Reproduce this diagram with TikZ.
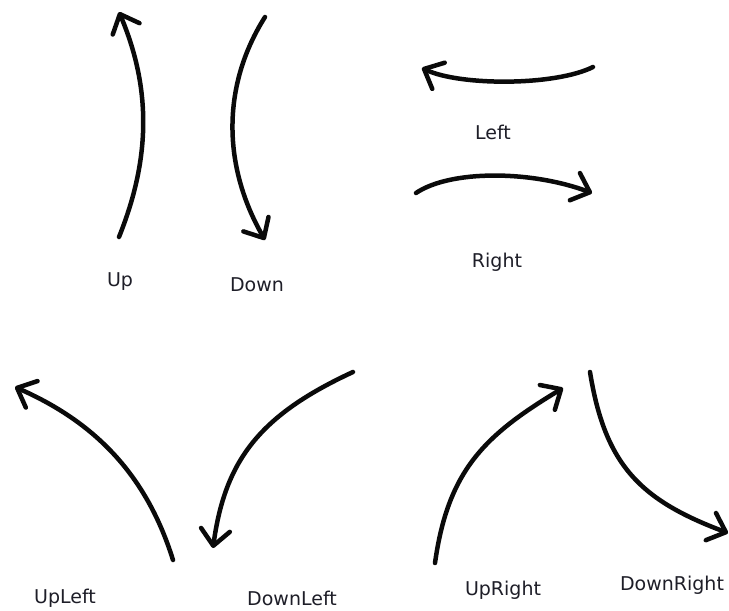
\documentclass[tikz,border=0pt]{standalone}
\usepackage{fontspec}
\setmainfont{DejaVu Sans}
\usepackage{tikz}
\usetikzlibrary{arrows.meta,positioning}
\definecolor{penblack}{RGB}{10, 10, 10}
\definecolor{inkgray} {RGB}{30, 30, 40}
\tikzset{
  stroke/.style={-{Straight Barb[length=16pt,width=29pt,line cap=round,line join=round]},
    line width=4.5pt,color=penblack,line cap=round,line join=round},
  lbl/.style={font=\fontsize{19}{21}\selectfont,text=inkgray,inner sep=0pt},
}
\begin{document}
\begin{tikzpicture}[x=1pt,y=-1pt]
  \useasboundingbox[fill=white](0,0) rectangle (729,611);

  \coordinate(upS)at(119,237);   \coordinate(upE)at(119,12);
  \coordinate(dnS)at(265,17);    \coordinate(dnE)at(265,240);
  \coordinate(lfS)at(593,67);    \coordinate(lfE)at(422,68);
  \coordinate(rtS)at(416,193);   \coordinate(rtE)at(592,193);
  \coordinate(ulS)at(173,560);   \coordinate(ulE)at(15,387);
  \coordinate(dlS)at(353,372);   \coordinate(dlE)at(213,548);
  \coordinate(urS)at(435,563);   \coordinate(urE)at(563,388);
  \coordinate(drS)at(590,372);   \coordinate(drE)at(728,533);

  \draw[stroke](upS) .. controls (150,160) and (152,90) .. (upE);
  \draw[stroke](dnS) .. controls (222,85) and (222,165) .. (dnE);
  \draw[stroke](lfS) .. controls (555,86) and (460,86) .. (lfE);
  \draw[stroke](rtS) .. controls (450,170) and (530,170) .. (rtE);
  \draw[stroke](ulS) .. controls (145,470) and (90,420) .. (ulE);
  \draw[stroke](dlS) .. controls (260,415) and (225,460) .. (dlE);
  \draw[stroke](urS) .. controls (448,470) and (485,435) .. (urE);
  \draw[stroke](drS) .. controls (605,465) and (640,500) .. (drE);

  \node[lbl](up)at(120,282){Up};
  \node[lbl](down)at(257,285){Down};
  \node[lbl](left)at(493,132){Left};
  \node[lbl](right)at(497,262){Right};
  \node[lbl](upleft)at(65,598){UpLeft};
  \node[lbl](downleft)at(292,598){DownLeft};
  \node[lbl](upright)at(503,590){UpRight};
  \node[lbl](downright)at(672,585){DownRight};
\end{tikzpicture}
\end{document}
